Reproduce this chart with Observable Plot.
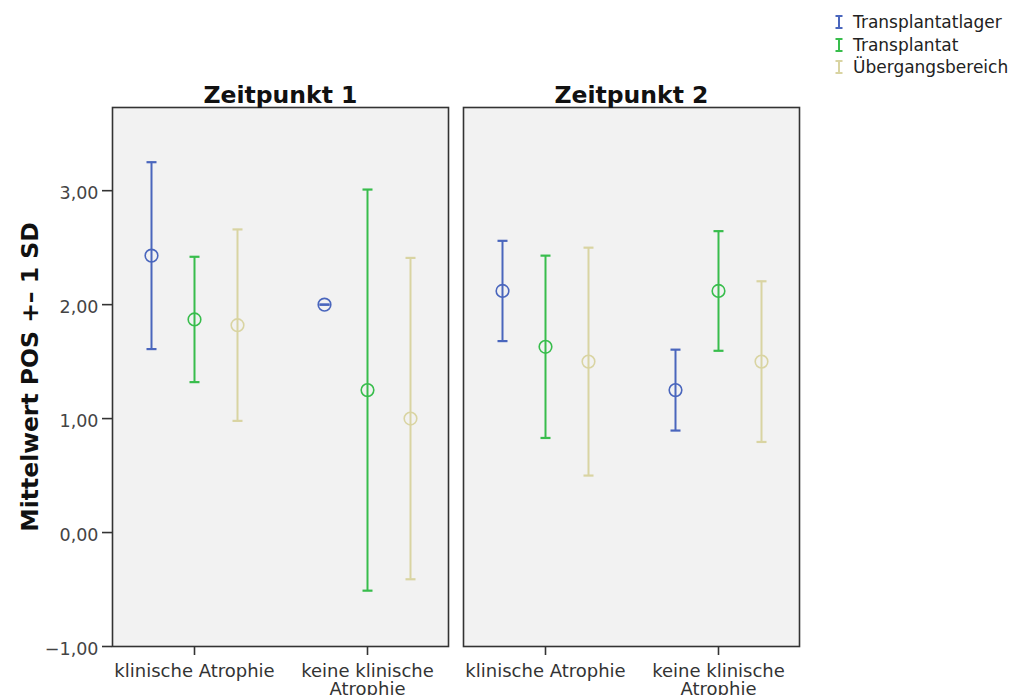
<!DOCTYPE html>
<html>
<head>
<meta charset="utf-8">
<script src="https://cdn.jsdelivr.net/npm/d3@7"></script>
<script src="https://cdn.jsdelivr.net/npm/@observablehq/plot@0.6"></script>
<style>
  html, body { margin: 0; padding: 0; background: #ffffff; }
  #wrap { position: relative; width: 1021px; height: 695px; font-family: "DejaVu Sans", sans-serif; }
  #legend { position: absolute; left: 834px; top: 11px; font-size: 17px; color: #222; }
  #legend .row { display: flex; align-items: center; height: 22.5px; white-space: nowrap; }
  #legend svg { margin-right: 9px; }
</style>
</head>
<body>
<div id="wrap"><div id="legend"></div></div>
<script>
// ---- data ----
const zeitpunkte = ["Zeitpunkt 1", "Zeitpunkt 2"];
const atrophie = ["klinische Atrophie", "keine klinische Atrophie"];
const seriesNames = ["Transplantatlager", "Transplantat", "Übergangsbereich"];
// order of values: Z1 klinisch, Z1 keine, Z2 klinisch, Z2 keine
const meanTransplantatlager = [2.43, 2.00, 2.12, 1.25];
const sdTransplantatlager   = [0.82, 0.00, 0.44, 0.355];
const meanTransplantat      = [1.87, 1.25, 1.63, 2.12];
const sdTransplantat        = [0.55, 1.76, 0.80, 0.525];
const meanUebergang         = [1.82, 1.00, 1.50, 1.50];
const sdUebergang           = [0.84, 1.41, 1.00, 0.705];
const yTicks = [-1, 0, 1, 2, 3];
const yLabel = "Mittelwert POS +– 1 SD";

// ---- styling ----
const colors = ["#4a66bd", "#38bd4c", "#d9d4a2"];
const dodge = [-43, 0, 43];

const means = [meanTransplantatlager, meanTransplantat, meanUebergang];
const sds = [sdTransplantatlager, sdTransplantat, sdUebergang];

const rows = [];
seriesNames.forEach((s, si) => {
  zeitpunkte.forEach((z, zi) => {
    atrophie.forEach((a, ai) => {
      const k = zi * 2 + ai;
      const m = means[si][k], sd = sds[si][k];
      rows.push({series: s, si, zeit: z, cat: a, mean: m, lo: m - sd, hi: m + sd});
    });
  });
});

const capSymbol = {
  draw(context) { context.moveTo(-5, 0); context.lineTo(5, 0); }
};

const seriesMarks = seriesNames.flatMap((s, si) => {
  const d = rows.filter(r => r.si === si);
  const common = {fx: "zeit", x: "cat", stroke: colors[si], dx: dodge[si]};
  return [
    Plot.ruleX(d, {...common, y1: "lo", y2: "hi", strokeWidth: 2}),
    Plot.dot(d, {...common, y: "lo", symbol: capSymbol, strokeWidth: 2.2, r: 5}),
    Plot.dot(d, {...common, y: "hi", symbol: capSymbol, strokeWidth: 2.2, r: 5}),
    Plot.dot(d, {...common, y: "mean", r: 6.3, strokeWidth: 1.6, fill: "none"})
  ];
});

const fmt = d => d.toFixed(2).replace(".", ",").replace("-", "−");

const chart = Plot.plot({
  width: 1021,
  height: 695,
  marginLeft: 112,
  marginRight: 222,
  marginTop: 107,
  marginBottom: 49,
  style: {fontFamily: "DejaVu Sans", fontSize: "17px", background: "transparent", color: "#333"},
  fx: {domain: zeitpunkte, paddingInner: 15 / 351, paddingOuter: 0, label: null},
  x: {type: "point", domain: atrophie, padding: 0.469, label: null},
  y: {domain: [-1, 3.73], label: null},
  marks: [
    Plot.frame({fill: "#f2f2f2", stroke: "#333", strokeWidth: 1.6}),
    Plot.axisFx({anchor: "top", tickSize: 0, tickPadding: 5, label: null, fontSize: 23.5, fontWeight: "bold", fill: "#111"}),
    Plot.axisY(yTicks, {tickSize: 10, fill: "none", stroke: "#333", strokeWidth: 1.6, label: null}),
    Plot.axisY(yTicks, {tickSize: 10, tickPadding: 4, stroke: "none", fill: "#444", dy: 3, tickFormat: fmt, fontSize: 17.5, label: null}),
    Plot.axisX({anchor: "bottom", tickSize: 9, tickPadding: 9, stroke: "#333", strokeWidth: 1.6, fill: "#333", fontSize: 18,
      tickFormat: d => d === "keine klinische Atrophie" ? "keine klinische\nAtrophie" : d, label: null}),
    Plot.text([{zeit: zeitpunkte[0], t: yLabel}], {fx: "zeit", text: "t", frameAnchor: "left", dx: -82, rotate: -90,
      fontSize: 23.5, fontWeight: "bold", fill: "#111", textAnchor: "middle"}),
    ...seriesMarks
  ]
});

const wrap = document.getElementById("wrap");
wrap.insertBefore(chart, wrap.firstChild);

// legend
const legend = document.getElementById("legend");
seriesNames.forEach((s, si) => {
  const row = document.createElement("div");
  row.className = "row";
  row.innerHTML = `<svg width="10" height="14"><path d="M1.5,1H8.5M5,1V13M1.5,13H8.5" stroke="${colors[si]}" stroke-width="2" fill="none"/></svg><span>${s}</span>`;
  legend.appendChild(row);
});
</script>
</body>
</html>
